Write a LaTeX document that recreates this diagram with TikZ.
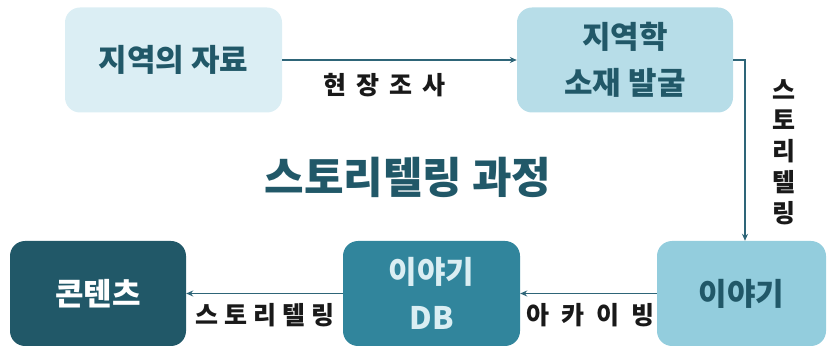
\documentclass[tikz,border=0pt]{standalone}
\usepackage{fontspec}
\usetikzlibrary{arrows.meta}
\newfontfamily\kr{Noto Sans CJK KR}
\definecolor{cA}{HTML}{DBEEF4}
\definecolor{cB}{HTML}{B7DDE8}
\definecolor{cC}{HTML}{93CDDD}
\definecolor{cD}{HTML}{31859C}
\definecolor{cE}{HTML}{215868}
\definecolor{cline}{HTML}{2E6578}
\definecolor{cdbtext}{HTML}{DAEEF3}
\newcommand\kgap[1]{\hspace{#1}}
\begin{document}
\begin{tikzpicture}[x=1pt,y=-1pt,
  box/.style={rounded corners=15pt, minimum width=#1, minimum height=105pt, inner sep=0pt, align=center,
     font=\kr\bfseries\fontsize{31}{46}\selectfont},
  arr/.style={draw=cline, line width=1.4pt, -{Stealth[length=7pt,width=6pt]}},
  lab/.style={font=\kr\bfseries\fontsize{25}{30.8}\selectfont, text=black!90, inner sep=0pt, align=center}]
\useasboundingbox (0,0) rectangle (828,347);
\node[box=217pt, fill=cA, text=cE] (b1) at (173.5,60) {지역의 자료};
\node[box=216pt, fill=cB, text=cE] (b2) at (625,60) {지역학\\소재 발굴};
\node[box=169pt, fill=cC, text=cE] (b3) at (741.5,293.5) {이야기};
\node[box=177pt, fill=cD, text=cdbtext] (b4) at (431.5,293.5) {이야기\\DB};
\node[box=176pt, fill=cE, text=white] (b5) at (98,293.5) {콘텐츠};
\node[font=\kr\bfseries\fontsize{43}{45}\selectfont, text=cE, inner sep=0pt] (title) at (408,177) {스토리텔링 과정};
\draw[arr] (b1.east) -- (b2.west);
\coordinate (c1) at (745,60);
\draw[arr] (b2.east) -- (c1) -- (c1 |- b3.north);
\draw[arr] (b3.west) -- (b4.east);
\draw[arr] (b4.west) -- (b5.east);
\node[lab] (l1) at (384,85) {현\kgap{10pt}장\kgap{10pt}조\kgap{10pt}사};
\node[lab] (l2) at (784,152) {스\\토\\리\\텔\\링};
\node[lab] (l3) at (265,315) {스\kgap{6pt}토\kgap{6pt}리\kgap{6pt}텔\kgap{6pt}링};
\node[lab] (l4) at (590,315) {아\kgap{12pt}카\kgap{12pt}이\kgap{12pt}빙};
\end{tikzpicture}
\end{document}
